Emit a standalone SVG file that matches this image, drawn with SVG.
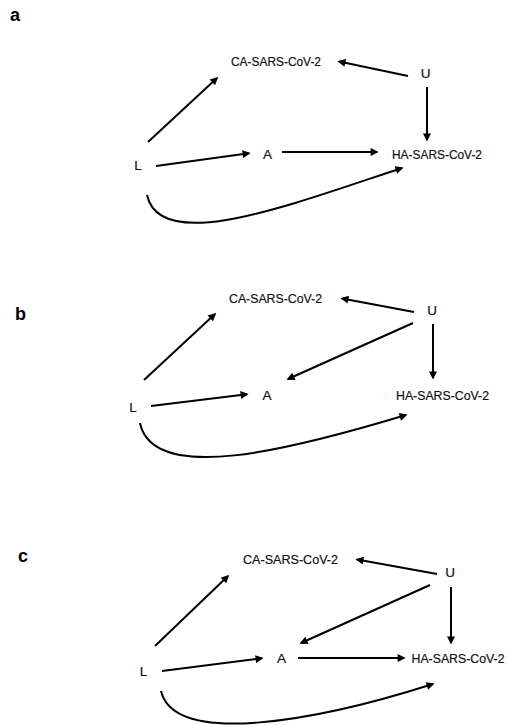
<svg xmlns="http://www.w3.org/2000/svg" width="510" height="725" viewBox="0 0 510 725">
<style>
.lbl{font-family:"Liberation Sans",Arial,sans-serif;font-weight:bold;font-size:18px;fill:#000}
.n{font-family:"Liberation Sans",Arial,sans-serif;fill:#111;text-anchor:middle;font-size:13.5px;stroke:#111;stroke-width:0.2}
.e{fill:none;stroke:#000;stroke-width:2;marker-end:url(#ah)}
</style>
<defs>
<marker id="ah" viewBox="0 0 10 10" refX="8" refY="5" markerWidth="9" markerHeight="8" markerUnits="userSpaceOnUse" orient="auto">
<path d="M0,0 L10,5 L0,10 z" fill="#000"/>
</marker>
</defs>
<rect width="510" height="725" fill="#fff"/>
<text class="lbl" x="10" y="21">a</text>
<text class="lbl" x="15" y="320">b</text>
<text class="lbl" x="18" y="562">c</text>

<g id="panel-a">
<g id="a-ca"><text class="n" x="276" y="66" textLength="90" lengthAdjust="spacingAndGlyphs">CA-SARS-CoV-2</text></g>
<g id="a-u"><text class="n" x="425.5" y="78">U</text></g>
<g id="a-a"><text class="n" x="267.5" y="159">A</text></g>
<g id="a-ha"><text class="n" x="437" y="159" textLength="90" lengthAdjust="spacingAndGlyphs">HA-SARS-CoV-2</text></g>
<g id="a-l"><text class="n" x="138" y="170">L</text></g>
</g>
<g id="panel-b">
<g id="b-ca"><text class="n" x="275.5" y="303" textLength="93" lengthAdjust="spacingAndGlyphs">CA-SARS-CoV-2</text></g>
<g id="b-u"><text class="n" x="432" y="315">U</text></g>
<g id="b-a"><text class="n" x="267" y="400">A</text></g>
<g id="b-ha"><text class="n" x="442.5" y="400" textLength="93" lengthAdjust="spacingAndGlyphs">HA-SARS-CoV-2</text></g>
<g id="b-l"><text class="n" x="133" y="411.5">L</text></g>
</g>
<g id="panel-c">
<g id="c-ca"><text class="n" x="290.5" y="564" textLength="95" lengthAdjust="spacingAndGlyphs">CA-SARS-CoV-2</text></g>
<g id="c-u"><text class="n" x="450" y="577">U</text></g>
<g id="c-a"><text class="n" x="281.5" y="663">A</text></g>
<g id="c-ha"><text class="n" x="458" y="663" style="font-size:12.5px" textLength="93" lengthAdjust="spacingAndGlyphs">HA-SARS-CoV-2</text></g>
<g id="c-l"><text class="n" x="143.5" y="676">L</text></g>
</g>

<g id="connectors">
<path class="e" d="M148,142 L217,78"/>
<path class="e" d="M408,76 L339,61.5"/>
<path class="e" d="M427,87 L427,140"/>
<path class="e" d="M156,166 L249,153.3"/>
<path class="e" d="M282,152 L377,152"/>
<path class="e" d="M147,195 C160,255 290,205 402,168"/>

<path class="e" d="M144,380 L215,314"/>
<path class="e" d="M414,312 L342,298.5"/>
<path class="e" d="M413,323 L288,379"/>
<path class="e" d="M433,324 L433,378"/>
<path class="e" d="M151,406 L247,394.3"/>
<path class="e" d="M140,423 C153,485 290,450 406,415"/>

<path class="e" d="M155,646 L228,576"/>
<path class="e" d="M437,574 L357,559.5"/>
<path class="e" d="M430,585 L301,643"/>
<path class="e" d="M451,587 L451,643"/>
<path class="e" d="M162,671 L262,658.3"/>
<path class="e" d="M298,658 L404,658"/>
<path class="e" d="M161,691 C175,748 320,720 433,684"/>
</g>
</svg>
